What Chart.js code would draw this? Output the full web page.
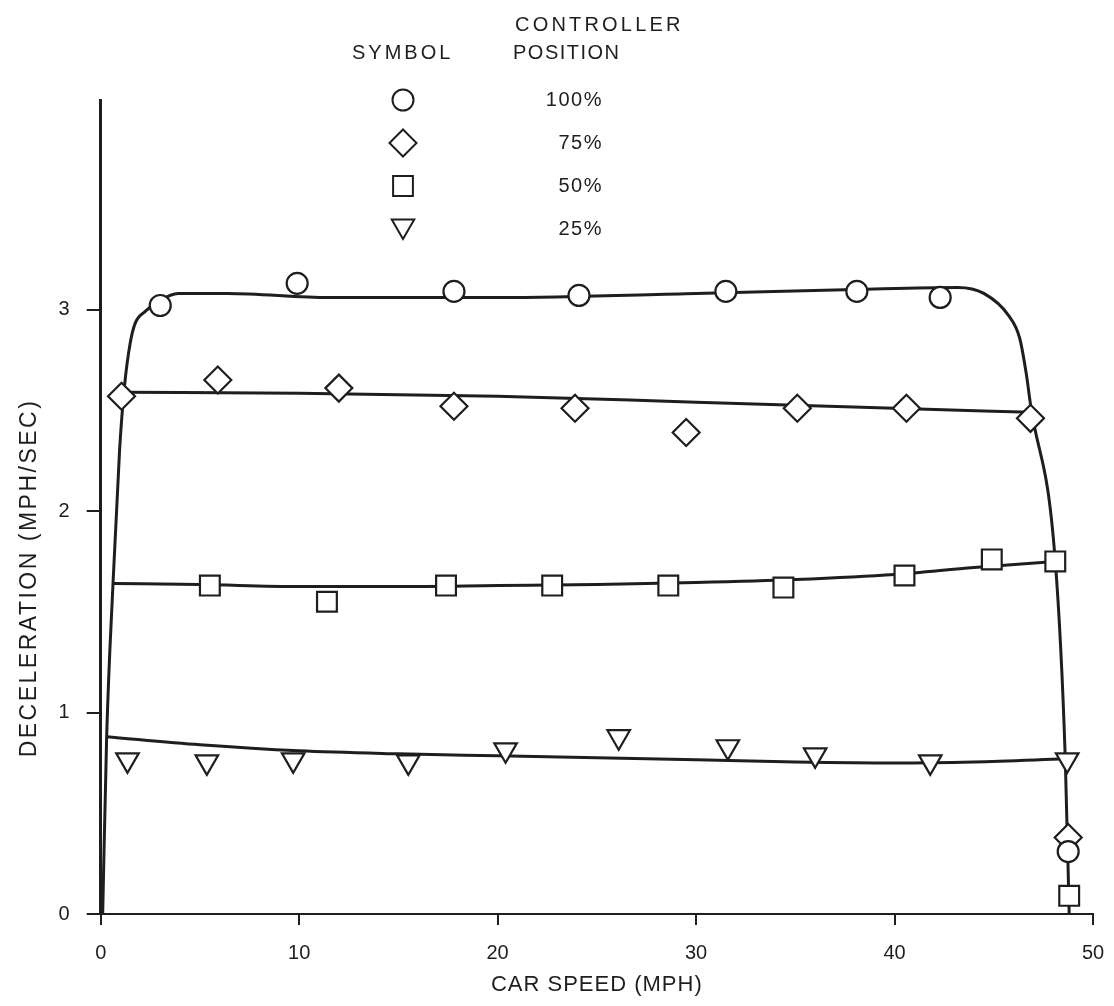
<!DOCTYPE html>
<html>
<head>
<meta charset="utf-8">
<script src="https://cdn.jsdelivr.net/npm/chart.js@4.4.1/dist/chart.umd.min.js"></script>
<style>
  html, body { margin: 0; padding: 0; background: #fff; }
</style>
</head>
<body>
<canvas id="chart" width="1114" height="1006"></canvas>
<script>
// axis ticks
const xTicks = [0, 10, 20, 30, 40, 50];
const yTicks = [0, 1, 2, 3];

// measured points, one pair of arrays per controller position
const pts100X = [3.0, 9.9, 17.8, 24.1, 31.5, 38.1, 42.3, 48.75];
const pts100Y = [3.02, 3.13, 3.09, 3.07, 3.09, 3.09, 3.06, 0.31];
const pts75X  = [1.05, 5.9, 12.0, 17.8, 23.9, 29.5, 35.1, 40.6, 46.85, 48.75];
const pts75Y  = [2.57, 2.65, 2.61, 2.52, 2.51, 2.39, 2.51, 2.51, 2.46, 0.38];
const pts50X  = [5.5, 11.4, 17.4, 22.75, 28.6, 34.4, 40.5, 44.9, 48.1, 48.8];
const pts50Y  = [1.63, 1.55, 1.63, 1.63, 1.63, 1.62, 1.68, 1.76, 1.75, 0.09];
const pts25X  = [1.35, 5.35, 9.7, 15.5, 20.4, 26.1, 31.6, 36.0, 41.8, 48.7];
const pts25Y  = [0.765, 0.755, 0.765, 0.755, 0.815, 0.88, 0.83, 0.79, 0.755, 0.765];

// hand-drawn fitted curves
const fit100X = [0.1, 0.3, 0.62, 0.95, 1.2, 1.48, 1.73, 2.23, 2.9, 3.9, 6.4, 11.5, 20, 30, 38, 43.2, 44.5, 45.75, 46.3, 46.64, 46.85, 48.1, 48.6, 48.8];
const fit100Y = [0, 0.88, 1.64, 2.3, 2.62, 2.83, 2.93, 2.99, 3.04, 3.08, 3.08, 3.06, 3.06, 3.08, 3.10, 3.11, 3.08, 2.97, 2.86, 2.68, 2.53, 1.75, 0.78, 0];
const fit75X  = [1.1, 10, 20, 30, 40, 46.85];
const fit75Y  = [2.59, 2.585, 2.57, 2.54, 2.51, 2.49];
const fit50X  = [0.62, 5, 10, 15, 20, 25, 30, 35, 40, 44, 48.1];
const fit50Y  = [1.64, 1.635, 1.625, 1.625, 1.63, 1.635, 1.645, 1.66, 1.685, 1.72, 1.75];
const fit25X  = [0.3, 5, 10, 15, 20, 25, 30, 35, 40, 44, 48.6];
const fit25Y  = [0.88, 0.84, 0.81, 0.795, 0.785, 0.775, 0.765, 0.755, 0.75, 0.755, 0.77];

const keyLabels = ['100%', '75%', '50%', '25%'];

const ink  = '#1e1e1e';
const face = '"Liberation Sans", Arial, Helvetica, sans-serif';

const xy = (xs, ys) => xs.map((x, i) => ({ x, y: ys[i] }));

const symbols = [
  { pointStyle: 'circle',   radius: 10.5, rotation: 0 },
  { pointStyle: 'rectRot',  radius: 13.5, rotation: 0 },
  { pointStyle: 'rect',     radius: 14,   rotation: 0 },
  { pointStyle: 'triangle', radius: 13,   rotation: 180 },
];

const fitLine = (xs, ys) => ({
  data: xy(xs, ys),
  showLine: true,
  borderColor: ink,
  borderWidth: 3,
  pointRadius: 0,
  cubicInterpolationMode: 'monotone',
  fill: false,
  order: 2
});

const marks = (xs, ys, s) => ({
  data: xy(xs, ys),
  showLine: false,
  pointStyle: s.pointStyle,
  pointRadius: s.radius,
  rotation: s.rotation,
  pointBackgroundColor: '#fff',
  pointBorderColor: ink,
  pointBorderWidth: 2.2,
  order: 1
});

// symbol key at the top and the two axis titles
const keyPlugin = {
  id: 'symbolKey',
  afterDraw(chart) {
    const ctx = chart.ctx;
    ctx.save();
    ctx.fillStyle = ink;
    ctx.textBaseline = 'middle';
    ctx.font = '20px ' + face;
    ctx.textAlign = 'left';
    ctx.letterSpacing = '3.2px';
    ctx.fillText('CONTROLLER', 515, 25);
    ctx.letterSpacing = '3px';
    ctx.fillText('SYMBOL', 352, 53);
    ctx.letterSpacing = '1.5px';
    ctx.fillText('POSITION', 513, 53);

    symbols.forEach((s, i) => {
      const y = 100 + i * 43 - (s.rotation ? 3 : 0);
      ctx.fillStyle = '#fff';
      ctx.strokeStyle = ink;
      ctx.lineWidth = 2;
      Chart.helpers.drawPoint(ctx, { pointStyle: s.pointStyle, radius: s.radius, rotation: s.rotation, borderWidth: 2 }, 403, y);
      ctx.fillStyle = ink;
      ctx.textAlign = 'right';
      ctx.fillText(keyLabels[i], 603, 100 + i * 43);
    });

    const area = chart.chartArea;
    ctx.font = '22px ' + face;
    ctx.letterSpacing = '1px';
    ctx.textAlign = 'center';
    ctx.fillText('CAR SPEED (MPH)', (area.left + area.right) / 2, 985);

    ctx.translate(30, 578);
    ctx.rotate(-Math.PI / 2);
    ctx.font = '23px ' + face;
    ctx.letterSpacing = '2.5px';
    ctx.fillText('DECELERATION (MPH/SEC)', 0, 0);
    ctx.restore();
  }
};

const ctx = document.getElementById('chart').getContext('2d');
new Chart(ctx, {
  type: 'scatter',
  data: {
    datasets: [
      fitLine(fit100X, fit100Y),
      fitLine(fit75X, fit75Y),
      fitLine(fit50X, fit50Y),
      fitLine(fit25X, fit25Y),
      marks(pts100X, pts100Y, symbols[0]),
      marks(pts75X,  pts75Y,  symbols[1]),
      marks(pts50X,  pts50Y,  symbols[2]),
      marks(pts25X,  pts25Y,  symbols[3]),
    ]
  },
  options: {
    responsive: false,
    animation: false,
    layout: { padding: { top: 100, right: 21, left: 0, bottom: 0 } },
    plugins: { legend: { display: false }, tooltip: { enabled: false } },
    scales: {
      x: {
        type: 'linear', min: 0, max: 50,
        afterBuildTicks: a => { a.ticks = xTicks.map(v => ({ value: v })); },
        afterFit: s => { s.height = 92; s.paddingLeft = 0; s.paddingRight = 0; },
        grid: { drawOnChartArea: false, drawTicks: true, tickLength: 11, color: ink, lineWidth: 2 },
        border: { display: true, color: ink, width: 2 },
        ticks: { color: ink, font: { family: face, size: 20 }, padding: 16, maxRotation: 0 }
      },
      y: {
        type: 'linear', min: 0, max: 4.04,
        afterBuildTicks: a => { a.ticks = yTicks.map(v => ({ value: v })); },
        afterFit: s => { s.width = 100.7; s.paddingTop = 0; s.paddingBottom = 0; },
        grid: { drawOnChartArea: false, drawTicks: true, tickLength: 14, color: ink, lineWidth: 2 },
        border: { display: true, color: ink, width: 3 },
        ticks: { color: ink, font: { family: face, size: 20 }, padding: 17 }
      }
    }
  },
  plugins: [keyPlugin]
});
</script>
</body>
</html>
